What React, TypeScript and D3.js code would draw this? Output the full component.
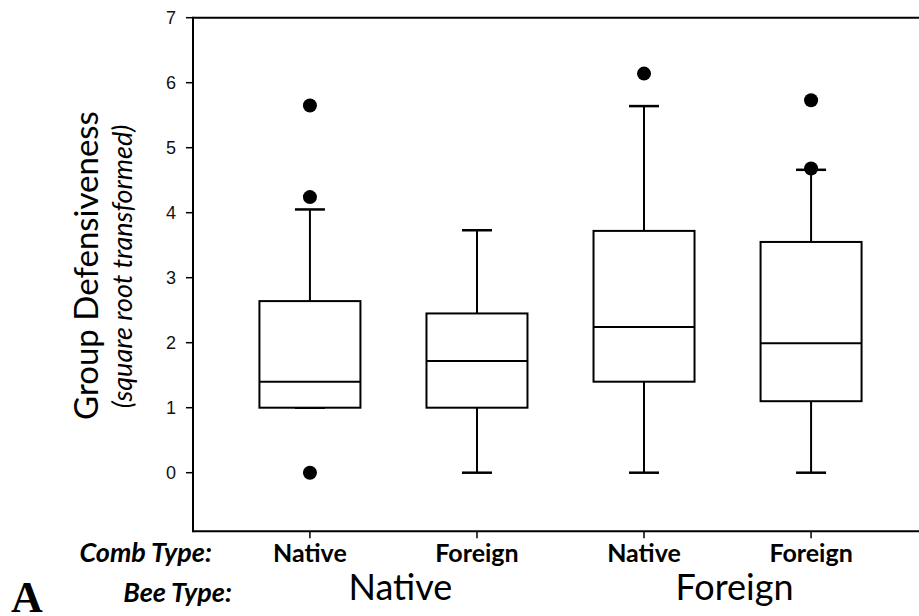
import React from "react";
import * as d3 from "d3";

const combLabels = ["Native", "Foreign", "Native", "Foreign"];
const beeLabels = ["Native", "Foreign"];
const q1 = [1.0, 1.0, 1.4, 1.1];
const median = [1.4, 1.72, 2.24, 1.99];
const q3 = [2.64, 2.45, 3.72, 3.55];
const whiskerLow = [1.0, 0, 0, 0];
const whiskerHigh = [4.05, 3.73, 5.64, 4.66];
const outliers = [[0, 4.24, 5.65], [], [6.14], [4.68, 5.73]];
const yTicks = [0, 1, 2, 3, 4, 5, 6, 7];

const W = 919;
const H = 616;
const calibri = "Lato, 'Noto Sans', sans-serif";

export default function App() {
  const x = d3.scaleLinear().domain([0.3, 4.7]).range([193, 928]);
  const y = d3.scaleLinear().domain([-0.9, 7]).range([531.2, 17.7]);
  const boxHalf = 50.5;
  const capHalf = 15;
  const x0 = x(0.3);
  const x1 = x(4.7);
  const yTop = y(7);
  const yBot = y(-0.9);
  const sw = 2;

  return (
    <svg
      width={W}
      height={H}
      viewBox={`0 0 ${W} ${H}`}
      style={{ position: "absolute", left: 0, top: 0, background: "#fff" }}
    >
      <rect x={0} y={0} width={W} height={H} fill="#fff" />
      {/* frame */}
      <line x1={x0} x2={x1} y1={yTop} y2={yTop} stroke="#000" strokeWidth={sw} />
      <line x1={x0} x2={x1} y1={yBot} y2={yBot} stroke="#000" strokeWidth={sw} />
      <line x1={x0} x2={x0} y1={yTop - 1} y2={yBot + 1} stroke="#000" strokeWidth={sw} />
      <line x1={x1} x2={x1} y1={yTop} y2={yBot} stroke="#000" strokeWidth={sw} />

      {/* y ticks */}
      {yTicks.map((t) => (
        <g key={t}>
          <line x1={x0 - 7} x2={x0} y1={y(t)} y2={y(t)} stroke="#000" strokeWidth={1.5} />
          <text
            x={x0 - 17}
            y={y(t)}
            dy="0.35em"
            textAnchor="end"
            fontFamily="'Liberation Sans', Arial, sans-serif"
            fontSize={18}
            fill="#111"
          >
            {t}
          </text>
        </g>
      ))}

      {/* x ticks and comb labels */}
      {combLabels.map((c, i) => (
        <g key={i}>
          <line x1={x(i + 1)} x2={x(i + 1)} y1={yBot} y2={yBot + 7} stroke="#000" strokeWidth={1.5} />
          <text
            x={x(i + 1)}
            y={561.5}
            textAnchor="middle"
            fontFamily={calibri}
            fontWeight={700}
            fontSize={25}
            fill="#000"
          >
            {c}
          </text>
        </g>
      ))}

      {/* bee type labels */}
      {beeLabels.map((b, i) => (
        <text
          key={b}
          x={x(2 * i + 1.5) + 7}
          y={600}
          textAnchor="middle"
          fontFamily={calibri}
          fontSize={36}
          fill="#000"
        >
          {b}
        </text>
      ))}

      <text
        x={212}
        y={561.5}
        textAnchor="end"
        fontFamily={calibri}
        fontWeight={700}
        fontStyle="italic"
        fontSize={27}
        fill="#000"
      >
        Comb Type:
      </text>
      <text
        x={232}
        y={601.5}
        textAnchor="end"
        fontFamily={calibri}
        fontWeight={700}
        fontStyle="italic"
        fontSize={27}
        fill="#000"
      >
        Bee Type:
      </text>
      <text
        x={11}
        y={612}
        fontFamily="'Liberation Serif', 'Times New Roman', serif"
        fontWeight={700}
        fontSize={44}
        fill="#000"
      >
        A
      </text>

      {/* y axis title */}
      <text
        transform={`translate(98, 265.5) rotate(-90)`}
        textAnchor="middle"
        fontFamily={calibri}
        fontSize={33}
        fill="#000"
      >
        Group Defensiveness
      </text>
      <text
        transform={`translate(132, 266.5) rotate(-90)`}
        textAnchor="middle"
        fontFamily={calibri}
        fontStyle="italic"
        fontSize={27}
        fill="#000"
      >
        (square root transformed)
      </text>

      {/* boxes */}
      {combLabels.map((_, i) => {
        const cx = x(i + 1);
        return (
          <g key={i} stroke="#000" strokeWidth={sw} fill="none">
            <line x1={cx} x2={cx} y1={y(q3[i])} y2={y(whiskerHigh[i])} />
            <line x1={cx} x2={cx} y1={y(q1[i])} y2={y(whiskerLow[i])} />
            <line x1={cx - capHalf} x2={cx + capHalf} y1={y(whiskerHigh[i])} y2={y(whiskerHigh[i])} strokeWidth={2.5} />
            <line x1={cx - capHalf} x2={cx + capHalf} y1={y(whiskerLow[i])} y2={y(whiskerLow[i])} strokeWidth={2.5} />
            <rect
              x={cx - boxHalf}
              y={y(q3[i])}
              width={boxHalf * 2}
              height={y(q1[i]) - y(q3[i])}
              fill="#fff"
            />
            <line x1={cx - boxHalf} x2={cx + boxHalf} y1={y(median[i])} y2={y(median[i])} />
            {outliers[i].map((o, j) => (
              <circle key={j} cx={cx} cy={y(o)} r={7} fill="#000" stroke="none" />
            ))}
          </g>
        );
      })}
    </svg>
  );
}
